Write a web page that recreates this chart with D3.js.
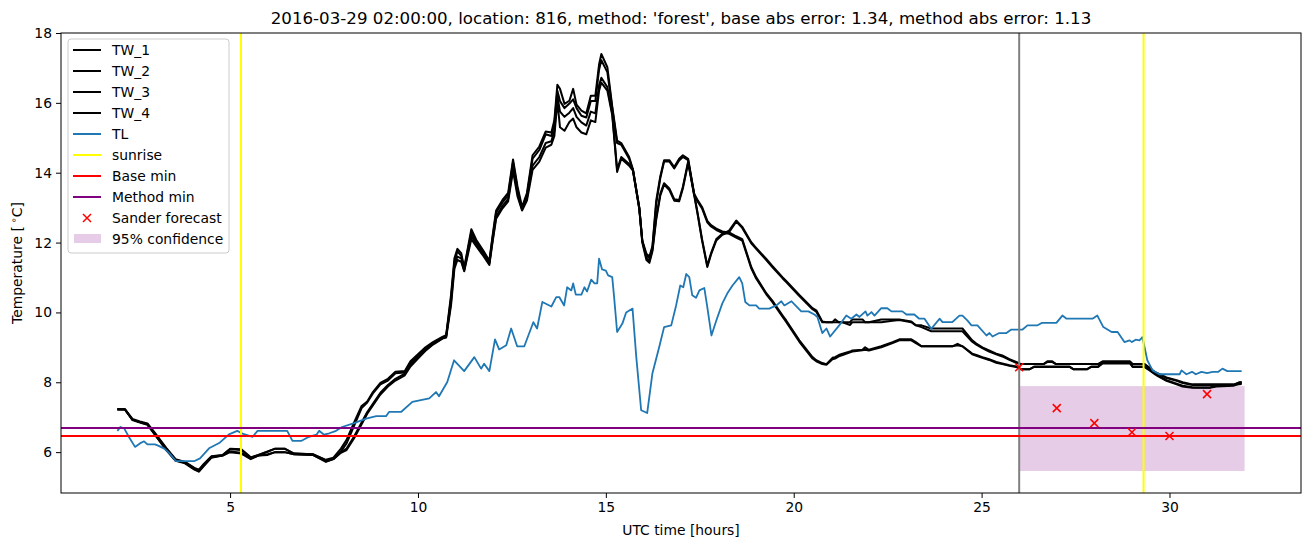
<!DOCTYPE html>
<html><head><meta charset="utf-8">
<script src="https://cdn.jsdelivr.net/npm/d3@7"></script>
<style>body{margin:0;background:#fff;} svg{display:block;font-family:"DejaVu Sans",sans-serif;}</style>
</head><body>
<svg id="c" width="1311" height="547"></svg>
<script>
const titleText = "2016-03-29 02:00:00, location: 816, method: 'forest', base abs error: 1.34, method abs error: 1.13";
const xTicks = [5, 10, 15, 20, 25, 30];
const yTicks = [6, 8, 10, 12, 14, 16, 18];

const twTime = [2.0,2.2,2.4,2.6,2.8,3.0,3.3,3.55,3.8,4.05,4.17,4.3,4.5,4.8,5.0,5.3,5.55,5.75,6.0,6.2,6.45,6.7,7.2,7.55,7.75,7.95,8.1,8.3,8.5,8.65,8.8,9.0,9.2,9.4,9.65,9.8,10.0,10.2,10.4,10.65,10.75,10.88,10.97,11.05,11.15,11.23,11.42,11.55,11.75,11.9,11.98,12.08,12.25,12.4,12.53,12.65,12.77,12.9,13.05,13.23,13.4,13.55,13.63,13.71,13.78,13.9,14.03,14.13,14.22,14.35,14.48,14.6,14.72,14.82,14.88,15.04,15.17,15.3,15.41,15.62,15.72,15.89,15.97,16.08,16.16,16.24,16.34,16.45,16.55,16.69,16.82,16.95,17.05,17.19,17.35,17.45,17.56,17.7,17.8,17.94,18.1,18.28,18.47,18.63,18.87,19.0,19.27,19.43,19.7,19.8,20.15,20.5,20.6,20.76,20.87,21.03,21.1,21.2,21.3,21.5,21.56,21.83,21.9,22.0,22.33,22.63,22.81,23.13,23.25,23.4,23.66,24.22,24.36,24.49,24.75,24.86,25.02,25.2,25.39,25.55,25.74,25.92,26.05,26.27,26.4,26.65,26.75,26.88,26.98,27.34,27.45,27.8,27.92,28.1,28.22,28.95,29.02,29.33,29.47,29.6,29.68,29.92,30.19,30.35,30.61,30.72,31.07,31.25,31.7,31.85,31.92];
const tw1 = [7.23,7.23,6.95,6.88,6.82,6.55,6.12,5.80,5.72,5.55,5.50,5.66,5.88,5.92,6.10,6.08,5.85,5.92,6.02,6.10,6.10,5.96,5.94,5.78,5.84,6.10,6.35,6.85,7.32,7.45,7.72,7.98,8.10,8.30,8.32,8.60,8.80,9.00,9.15,9.30,9.35,10.50,11.55,11.82,11.70,11.28,12.38,12.08,11.75,11.48,12.15,12.92,13.22,13.42,14.38,13.60,13.02,13.42,14.50,14.75,15.18,15.15,15.50,16.52,16.40,15.97,16.06,16.40,15.95,15.78,15.70,16.20,16.20,17.10,17.40,17.02,15.90,14.92,14.85,14.45,14.10,13.00,12.06,11.68,11.60,11.90,13.20,13.90,14.36,14.36,14.16,14.40,14.50,14.40,13.40,13.20,13.02,12.62,12.50,12.40,12.32,12.29,12.18,12.10,11.30,11.01,10.55,10.34,9.92,9.77,9.20,8.72,8.63,8.55,8.52,8.70,8.72,8.78,8.82,8.88,8.91,8.93,9.00,8.93,9.03,9.15,9.23,9.23,9.15,9.03,9.03,9.03,9.10,9.03,8.82,8.78,8.72,8.66,8.58,8.54,8.49,8.45,8.37,8.37,8.45,8.45,8.45,8.45,8.45,8.45,8.37,8.37,8.45,8.45,8.55,8.55,8.45,8.45,8.36,8.26,8.20,8.06,7.96,7.90,7.86,7.85,7.85,7.90,7.92,8.00,8.01];
const tw2 = [7.23,7.23,6.93,6.86,6.80,6.52,6.10,5.78,5.70,5.53,5.47,5.64,5.87,5.91,6.08,6.06,5.84,5.91,6.01,6.10,6.10,5.96,5.94,5.76,5.82,6.02,6.25,6.75,7.26,7.42,7.68,7.94,8.05,8.26,8.28,8.56,8.76,8.96,9.12,9.28,9.33,10.40,11.45,11.75,11.62,11.25,12.30,12.02,11.70,11.44,12.10,12.86,13.15,13.35,14.30,13.52,12.98,13.35,14.40,14.65,15.10,15.05,15.40,16.35,16.05,15.85,15.98,16.10,15.85,15.63,15.58,16.05,16.05,16.95,17.22,16.88,15.85,14.85,14.80,14.40,14.08,12.98,12.04,11.62,11.55,11.85,13.10,13.85,14.32,14.32,14.12,14.35,14.45,14.36,13.36,13.16,12.98,12.58,12.46,12.36,12.28,12.25,12.14,12.06,11.26,10.97,10.52,10.30,9.88,9.73,9.16,8.68,8.60,8.52,8.50,8.66,8.68,8.74,8.78,8.86,8.88,8.92,8.93,8.91,9.00,9.12,9.20,9.20,9.12,9.03,9.03,9.03,9.06,9.03,8.80,8.76,8.70,8.64,8.56,8.52,8.47,8.44,8.37,8.37,8.44,8.44,8.44,8.44,8.44,8.44,8.37,8.37,8.44,8.44,8.54,8.54,8.44,8.44,8.34,8.24,8.18,8.04,7.94,7.88,7.84,7.84,7.84,7.88,7.90,7.96,7.98];
const tw3 = [7.23,7.22,6.93,6.86,6.80,6.50,6.08,5.76,5.70,5.52,5.45,5.62,5.85,5.90,6.02,5.98,5.82,5.90,5.94,6.00,6.00,5.94,5.92,5.74,5.80,6.00,6.10,6.45,6.85,7.15,7.38,7.70,7.92,8.10,8.25,8.50,8.72,8.92,9.10,9.26,9.30,10.30,11.35,11.60,11.55,11.20,12.20,11.95,11.65,11.40,12.02,12.75,13.05,13.25,14.15,13.40,12.95,13.28,14.20,14.45,14.85,14.90,15.20,16.20,15.75,15.60,15.72,15.85,15.60,15.44,15.35,15.75,15.70,16.50,16.72,16.45,15.70,14.10,14.45,14.25,14.10,13.00,12.05,11.55,11.48,11.80,12.72,13.40,13.70,13.55,13.24,13.22,13.60,14.32,13.40,12.80,12.10,11.34,11.70,12.10,12.25,12.34,12.63,12.45,12.01,11.85,11.53,11.33,11.01,10.90,10.50,10.12,10.06,9.74,9.72,9.72,9.80,9.72,9.72,9.72,9.80,9.80,9.72,9.72,9.80,9.80,9.80,9.74,9.63,9.63,9.54,9.54,9.54,9.54,9.20,9.11,9.00,8.91,8.82,8.77,8.66,8.58,8.52,8.52,8.52,8.52,8.60,8.60,8.52,8.52,8.52,8.52,8.52,8.52,8.60,8.60,8.52,8.52,8.42,8.30,8.26,8.14,8.06,8.00,7.94,7.94,7.94,7.94,7.94,7.98,8.00];
const tw4 = [7.22,7.22,6.92,6.85,6.78,6.50,6.06,5.75,5.68,5.50,5.44,5.60,5.84,5.90,6.00,5.96,5.80,5.90,5.92,6.00,6.00,5.94,5.92,5.72,5.80,5.98,6.06,6.40,6.80,7.10,7.34,7.65,7.88,8.05,8.20,8.45,8.68,8.90,9.08,9.25,9.28,10.20,11.25,11.50,11.45,11.18,12.10,11.90,11.60,11.36,11.98,12.68,12.98,13.18,14.05,13.32,12.92,13.20,14.08,14.32,14.72,14.80,15.05,16.05,15.30,15.20,15.45,15.55,15.30,15.15,15.10,15.50,15.45,16.35,16.58,16.35,15.65,14.02,14.40,14.20,14.06,12.96,12.00,11.50,11.42,11.75,12.65,13.35,13.66,13.50,13.20,13.18,13.55,14.28,13.36,12.76,12.06,11.30,11.66,12.06,12.22,12.30,12.60,12.42,11.98,11.82,11.50,11.30,10.98,10.87,10.47,10.09,10.02,9.72,9.72,9.72,9.72,9.72,9.72,9.64,9.72,9.72,9.72,9.72,9.72,9.76,9.78,9.72,9.63,9.58,9.46,9.46,9.46,9.46,9.16,9.08,8.98,8.88,8.80,8.74,8.64,8.56,8.52,8.52,8.52,8.52,8.58,8.58,8.52,8.52,8.52,8.52,8.52,8.52,8.58,8.58,8.52,8.52,8.40,8.28,8.24,8.12,8.04,7.98,7.92,7.92,7.92,7.92,7.92,7.94,7.95];

const tlTime = [2.0,2.08,2.18,2.3,2.47,2.6,2.71,2.8,3.0,3.1,3.25,3.4,3.56,4.04,4.2,4.44,4.71,4.97,5.19,5.35,5.6,5.73,6.52,6.66,6.89,7.1,7.3,7.37,7.5,7.64,7.82,7.98,8.3,8.62,8.89,9.15,9.23,9.55,9.85,10.3,10.48,10.56,10.78,10.96,11.23,11.5,11.68,11.76,11.9,12.05,12.16,12.35,12.48,12.64,12.83,13.07,13.17,13.31,13.55,13.68,13.76,13.89,13.97,14.08,14.13,14.2,14.35,14.43,14.5,14.61,14.7,14.77,14.82,14.9,15.0,15.06,15.17,15.22,15.3,15.44,15.54,15.71,15.81,15.94,16.1,16.24,16.42,16.55,16.74,16.87,16.98,17.06,17.14,17.22,17.3,17.4,17.49,17.62,17.7,17.81,17.94,18.1,18.23,18.37,18.55,18.63,18.71,18.82,19.0,19.08,19.35,19.54,19.67,19.75,19.94,20.0,20.2,20.39,20.55,20.63,20.76,20.87,20.97,21.21,21.4,21.53,21.67,21.75,21.91,21.96,22.07,22.15,22.33,22.49,22.6,22.89,23.0,23.21,23.34,23.48,23.66,23.88,23.96,24.22,24.41,24.49,24.62,24.73,24.89,25.13,25.21,25.29,25.47,25.66,25.79,26.09,26.22,26.49,26.6,26.99,27.15,27.26,27.95,28.08,28.24,28.46,28.62,28.8,28.94,29.0,29.1,29.2,29.28,29.41,29.55,29.73,30.27,30.32,30.45,30.6,30.7,30.85,31.0,31.15,31.3,31.41,31.54,31.92];
const tlTemp = [6.61,6.72,6.68,6.45,6.15,6.25,6.31,6.22,6.22,6.18,6.10,5.95,5.74,5.74,5.82,6.11,6.26,6.51,6.61,6.52,6.44,6.61,6.61,6.32,6.32,6.44,6.50,6.61,6.50,6.54,6.61,6.72,6.83,6.96,7.03,7.03,7.15,7.15,7.44,7.54,7.72,7.60,8.01,8.63,8.32,8.72,8.39,8.53,8.32,9.23,8.94,9.06,9.54,9.03,9.03,9.72,9.54,10.30,10.17,10.44,10.44,10.20,10.72,10.63,10.83,10.51,10.51,10.72,10.60,10.94,10.83,10.83,11.54,11.23,11.20,11.06,11.01,10.44,9.44,9.68,10.00,10.11,8.72,7.20,7.12,8.26,9.01,9.58,9.63,10.20,10.77,10.72,11.10,11.01,10.49,10.42,10.63,10.70,10.15,9.34,9.77,10.26,10.54,10.77,11.01,10.83,10.30,10.20,10.20,10.11,10.11,10.20,10.32,10.20,10.32,10.25,10.03,10.03,9.94,9.87,9.41,9.54,9.31,9.63,9.91,9.82,9.94,9.87,10.03,9.91,10.01,9.91,10.12,10.12,10.03,10.03,9.94,9.94,9.82,9.82,9.53,9.82,9.72,9.72,9.91,9.91,9.77,9.63,9.63,9.34,9.41,9.31,9.41,9.41,9.51,9.51,9.63,9.63,9.70,9.70,9.91,9.82,9.82,9.91,9.58,9.44,9.44,9.15,9.20,9.15,9.22,9.20,9.29,8.63,8.34,8.23,8.23,8.34,8.23,8.30,8.23,8.30,8.26,8.30,8.30,8.39,8.32,8.32];

const sunriseTimes = [5.29, 29.31];
const forecastStart = 26;
const baseMin = 6.46;
const methodMin = 6.69;
const sanderTime = [26, 27, 28, 29, 30, 31];
const sanderTemp = [8.43, 7.26, 6.83, 6.57, 6.46, 7.66];
const confTime = [26, 32];
const confLow = 5.46;
const confHigh = 7.89;

const FS = 13.89;
const svg = d3.select("#c");
const L = 61, R = 1301, T = 33, B = 493;
const x = d3.scaleLinear().domain([0.5, 33.5]).range([L, R]);
const y = d3.scaleLinear().domain([4.83, 18.0]).range([B, T]);

svg.append("defs").append("clipPath").attr("id", "clip")
  .append("rect").attr("x", L).attr("y", T).attr("width", R - L).attr("height", B - T);
const g = svg.append("g").attr("clip-path", "url(#clip)");

g.append("rect")
  .attr("x", x(confTime[0])).attr("width", x(confTime[1]) - x(confTime[0]))
  .attr("y", y(confHigh)).attr("height", y(confLow) - y(confHigh))
  .attr("fill", "purple").attr("fill-opacity", 0.2);

const line = d3.line().x(d => x(d[0])).y(d => y(d[1]));
[tw1, tw2, tw3, tw4].forEach(arr => {
  g.append("path").datum(twTime.map((t, i) => [t, arr[i]]))
    .attr("d", line).attr("fill", "none").attr("stroke", "black")
    .attr("stroke-width", 2).attr("stroke-linejoin", "round");
});
g.append("path").datum(tlTime.map((t, i) => [t, tlTemp[i]]))
  .attr("d", line).attr("fill", "none").attr("stroke", "#1f77b4")
  .attr("stroke-width", 1.8).attr("stroke-linejoin", "round");

sunriseTimes.forEach(t => {
  g.append("line").attr("x1", x(t)).attr("x2", x(t)).attr("y1", T).attr("y2", B)
    .attr("stroke", "yellow").attr("stroke-width", 2);
});
g.append("line").attr("x1", x(forecastStart)).attr("x2", x(forecastStart)).attr("y1", T).attr("y2", B)
  .attr("stroke", "gray").attr("stroke-width", 2);
g.append("line").attr("x1", L).attr("x2", R).attr("y1", y(baseMin)).attr("y2", y(baseMin))
  .attr("stroke", "red").attr("stroke-width", 2);
g.append("line").attr("x1", L).attr("x2", R).attr("y1", y(methodMin)).attr("y2", y(methodMin))
  .attr("stroke", "purple").attr("stroke-width", 2);

const xm = 4;
sanderTime.forEach((t, i) => {
  const cx = x(t), cy = y(sanderTemp[i]);
  g.append("path").attr("d", `M${cx - xm},${cy - xm}L${cx + xm},${cy + xm}M${cx - xm},${cy + xm}L${cx + xm},${cy - xm}`)
    .attr("stroke", "red").attr("stroke-width", 1.5).attr("fill", "none");
});

const xAxis = svg.append("g").attr("transform", `translate(0,${B})`)
  .call(d3.axisBottom(x).tickValues(xTicks).tickSize(5).tickPadding(4).tickFormat(d3.format("d")));
const yAxis = svg.append("g").attr("transform", `translate(${L},0)`)
  .call(d3.axisLeft(y).tickValues(yTicks).tickSize(5).tickPadding(4).tickFormat(d3.format("d")));
[xAxis, yAxis].forEach(a => {
  a.select(".domain").remove();
  a.selectAll("text").attr("font-size", FS).attr("fill", "black").attr("font-family", "DejaVu Sans");
  a.selectAll("line").attr("stroke", "black").attr("stroke-width", 1);
});
svg.append("rect").attr("x", L).attr("y", T).attr("width", R - L).attr("height", B - T)
  .attr("fill", "none").attr("stroke", "black").attr("stroke-width", 1);

svg.append("text").attr("x", (L + R) / 2).attr("y", 24).attr("text-anchor", "middle")
  .attr("font-size", 16.67).text(titleText);
svg.append("text").attr("x", (L + R) / 2).attr("y", 535).attr("text-anchor", "middle")
  .attr("font-size", FS).text("UTC time [hours]");
const yl = svg.append("text").attr("transform", `translate(22,${(T + B) / 2}) rotate(-90)`)
  .attr("text-anchor", "middle").attr("font-size", FS);
yl.append("tspan").text("Temperature [");
yl.append("tspan").attr("font-size", 9.5).attr("dy", -5).text(" \u2218");
yl.append("tspan").attr("dy", 5).text("C]");

const lg = svg.append("g");
lg.append("rect").attr("x", 68).attr("y", 39).attr("width", 161).attr("height", 214)
  .attr("rx", 3).attr("fill", "white").attr("fill-opacity", 0.8).attr("stroke", "#cccccc");
const items = [
  {label: "TW_1", type: "line", color: "black", w: 2},
  {label: "TW_2", type: "line", color: "black", w: 2},
  {label: "TW_3", type: "line", color: "black", w: 2},
  {label: "TW_4", type: "line", color: "black", w: 2},
  {label: "TL", type: "line", color: "#1f77b4", w: 2},
  {label: "sunrise", type: "line", color: "yellow", w: 2},
  {label: "Base min", type: "line", color: "red", w: 2},
  {label: "Method min", type: "line", color: "purple", w: 2},
  {label: "Sander forecast", type: "x", color: "red"},
  {label: "95% confidence", type: "patch", color: "purple"}
];
items.forEach((it, i) => {
  const cy = 50 + i * 21;
  if (it.type === "line") {
    lg.append("line").attr("x1", 73).attr("x2", 101).attr("y1", cy).attr("y2", cy)
      .attr("stroke", it.color).attr("stroke-width", it.w);
  } else if (it.type === "x") {
    lg.append("path").attr("d", `M${87 - xm},${cy - xm}L${87 + xm},${cy + xm}M${87 - xm},${cy + xm}L${87 + xm},${cy - xm}`)
      .attr("stroke", it.color).attr("stroke-width", 1.5);
  } else {
    lg.append("rect").attr("x", 74).attr("y", cy - 5).attr("width", 27).attr("height", 9)
      .attr("fill", it.color).attr("fill-opacity", 0.2);
  }
  lg.append("text").attr("x", 112).attr("y", cy + 5).attr("font-size", FS).text(it.label);
});
</script>
</body></html>
